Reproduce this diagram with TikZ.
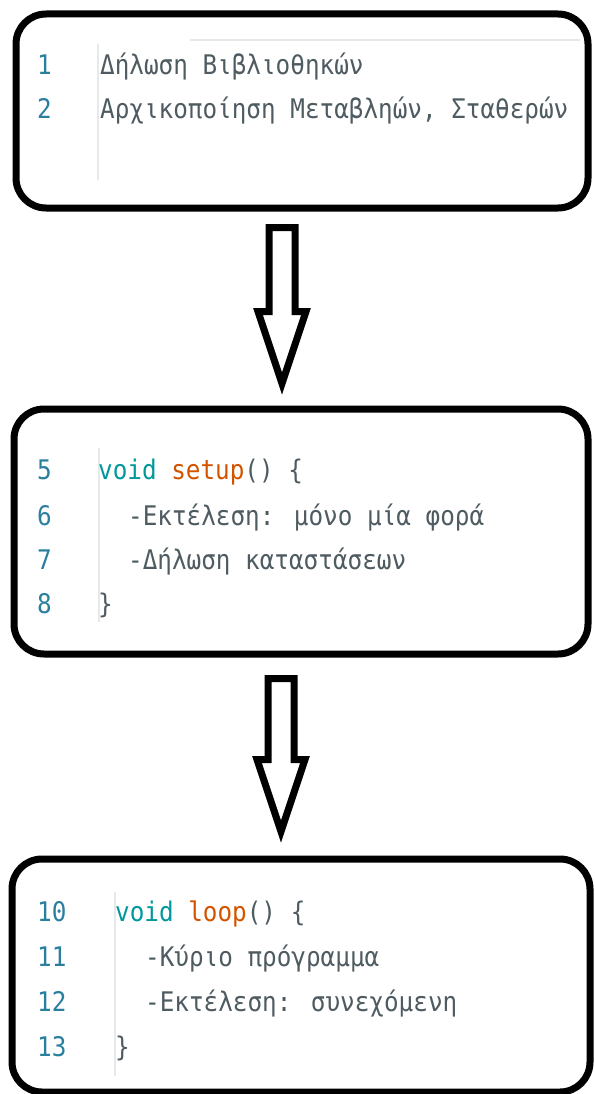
\documentclass[tikz,border=0pt]{standalone}
\usepackage{fontspec}
\usetikzlibrary{calc}
\newfontfamily\codefont[FakeStretch=0.9]{DejaVu Sans Mono}

\definecolor{lineno}{HTML}{2B7F9E}
\definecolor{codetext}{HTML}{4E5B61}
\definecolor{kwteal}{HTML}{00979D}
\definecolor{fnorange}{HTML}{D35400}
\definecolor{guide}{HTML}{E6E9EA}

\begin{document}
\begin{tikzpicture}[
      x=1pt,y=-1pt,
      font=\codefont\fontsize{27}{30}\selectfont,
      codebox/.style={draw,line width=7pt,rounded corners=30pt,inner sep=0pt},
      num/.style={anchor=base west,inner sep=0pt,text=lineno},
      code/.style={anchor=base west,inner sep=0pt,text=codetext},
      guideline/.style={draw=guide,line width=1.2pt},
      hollow/.style={draw,line width=7pt,line join=miter,fill=white},
      ]

    \clip (0,0) rectangle (594,1094);

    % The three boxes
    \node[codebox,minimum width=572pt,minimum height=194pt] (box1) at (302,111) {};
    \node[codebox,minimum width=574pt,minimum height=245pt] (box2) at (301,531.5) {};
    \node[codebox,minimum width=578pt,minimum height=233pt] (box3) at (301,975.5) {};

    % Editor guides
    \draw[guideline] (190,40) -- (580,40);
    \draw[guideline] (98,44) -- (98,180);
    \draw[guideline] (99,448) -- (99,622);
    \draw[guideline] (115,892) -- (115,1076);

    % Box 1
    \node[num] (n1) at (37,75) {1};
    \node[num] (n2) at (37,119) {2};
    \node[code] (c1) at (100,75) {Δήλωση Βιβλιοθηκών};
    \node[code] (c2) at (100,119) {Αρχικοποίηση Μεταβληών, Σταθερών};

    % Box 2
    \node[num] (n5) at (37,479) {5};
    \node[num] (n6) at (37,525) {6};
    \node[num] (n7) at (37,569) {7};
    \node[num] (n8) at (37,613) {8};
    \node[code] (c5) at (98,479) {\textcolor{kwteal}{void} \textcolor{fnorange}{setup}() \{};
    \node[code] (c6) at (128,525) {-Εκτέλεση: μόνο μία φορά};
    \node[code] (c7) at (128,569) {-Δήλωση καταστάσεων};
    \node[code] (c8) at (98,613) {\}};

    % Box 3
    \node[num] (n10) at (37,921) {10};
    \node[num] (n11) at (37,966) {11};
    \node[num] (n12) at (37,1011) {12};
    \node[num] (n13) at (37,1056) {13};
    \node[code] (c10) at (115,921) {\textcolor{kwteal}{void} \textcolor{fnorange}{loop}() \{};
    \node[code] (c11) at (145,966) {-Κύριο πρόγραμμα};
    \node[code] (c12) at (145,1011) {-Εκτέλεση: συνεχόμενη};
    \node[code] (c13) at (115,1056) {\}};

    % Hollow arrows between the boxes
    \coordinate (a1) at ($(box1.south)+(-20,16)$);
    \coordinate (a2) at ($(box2.south)+(-20,21)$);
    \foreach \a/\len in {a1/84,a2/81} {
      \draw[hollow] ($(\a)+(-13,0)$) -- ($(\a)+(13,0)$) -- ($(\a)+(13,\len)$)
        -- ($(\a)+(24,\len)$) -- ($(\a)+(0,\len+72)$) -- ($(\a)+(-24,\len)$)
        -- ($(\a)+(-13,\len)$) -- cycle;
    }

  \end{tikzpicture}
\end{document}
